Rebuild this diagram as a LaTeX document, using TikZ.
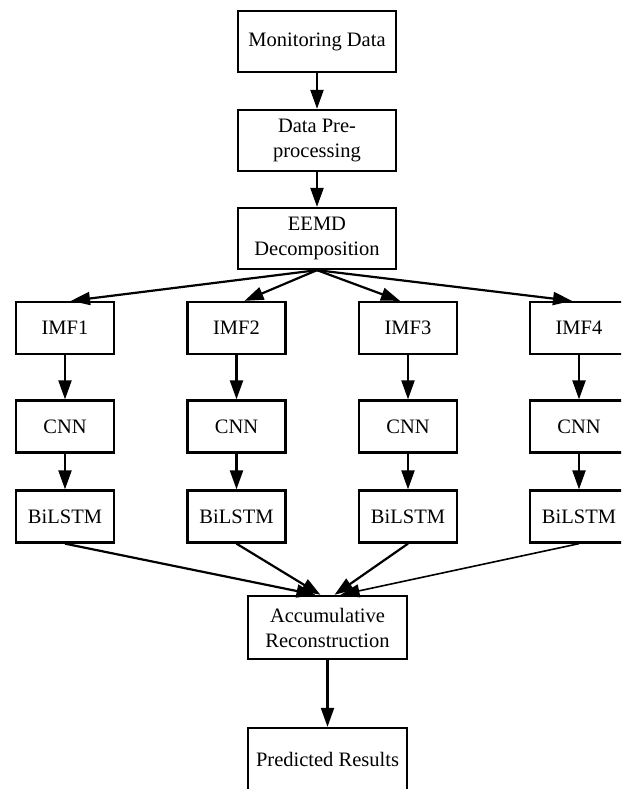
\documentclass[tikz,border=0pt]{standalone}
\usepackage{fontspec}
\setmainfont{Liberation Serif}
\usetikzlibrary{arrows.meta,calc}
\tikzset{
  box/.style={draw, line width=2.3pt, inner sep=0pt, align=center,
    font=\fontsize{20.5}{25}\selectfont},
  wide/.style={box, minimum width=158pt, minimum height=61pt},
  small/.style={box, minimum width=98pt, minimum height=52pt},
  flow/.style={line width=2.2pt, -{Triangle[length=19pt,width=13pt]}},
}
\begin{document}
\begin{tikzpicture}[x=1pt,y=-1pt]
\useasboundingbox (0,0) rectangle (621,789);
\clip (0,0) rectangle (621,789);

% main chain
\node[wide] (mon)  at (317,41.5)  {Monitoring Data};
\node[wide] (pre)  at (317,140.5) {Data Pre-\\processing};
\node[wide] (eemd) at (317,238.5) {EEMD\\Decomposition};

% four parallel branches
\foreach \i/\x in {1/65,2/236.5,3/408,4/579}{
  \node[small] (imf\i) at (\x,328)   {IMF\i};
  \node[small] (cnn\i) at (\x,426.5) {CNN};
  \node[small] (bil\i) at (\x,516.5) {BiLSTM};
  \draw[flow] (imf\i) -- (cnn\i);
  \draw[flow] (cnn\i) -- (bil\i);
}

\node[wide, minimum width=159pt, minimum height=63pt] (acc) at (327.5,627.5) {Accumulative\\Reconstruction};
\node[wide, minimum width=159pt, minimum height=63pt] (res) at (327.5,759.5) {Predicted Results};

\draw[flow] (mon) -- (pre);
\draw[flow] (pre) -- (eemd);

% decomposition fan-out
\draw[flow] (eemd.south) -- ($(imf1.north)+(6,0)$);
\draw[flow] (eemd.south) -- ($(imf2.north)+(8,0)$);
\draw[flow] (eemd.south) -- ($(imf3.north)+(-8,0)$);
\draw[flow] (eemd.south) -- ($(imf4.north)+(-7,0)$);

% reconstruction fan-in
\draw[flow] (bil1.south) -- ($(acc.north)+(-12,0)$);
\draw[flow] (bil2.south) -- ($(acc.north)+(-7,0)$);
\draw[flow] (bil3.south) -- ($(acc.north)+(7,0)$);
\draw[flow, line width=1.6pt] (bil4.south) -- ($(acc.north)+(13,0)$);

\draw[flow] (acc) -- (res);
\end{tikzpicture}
\end{document}
